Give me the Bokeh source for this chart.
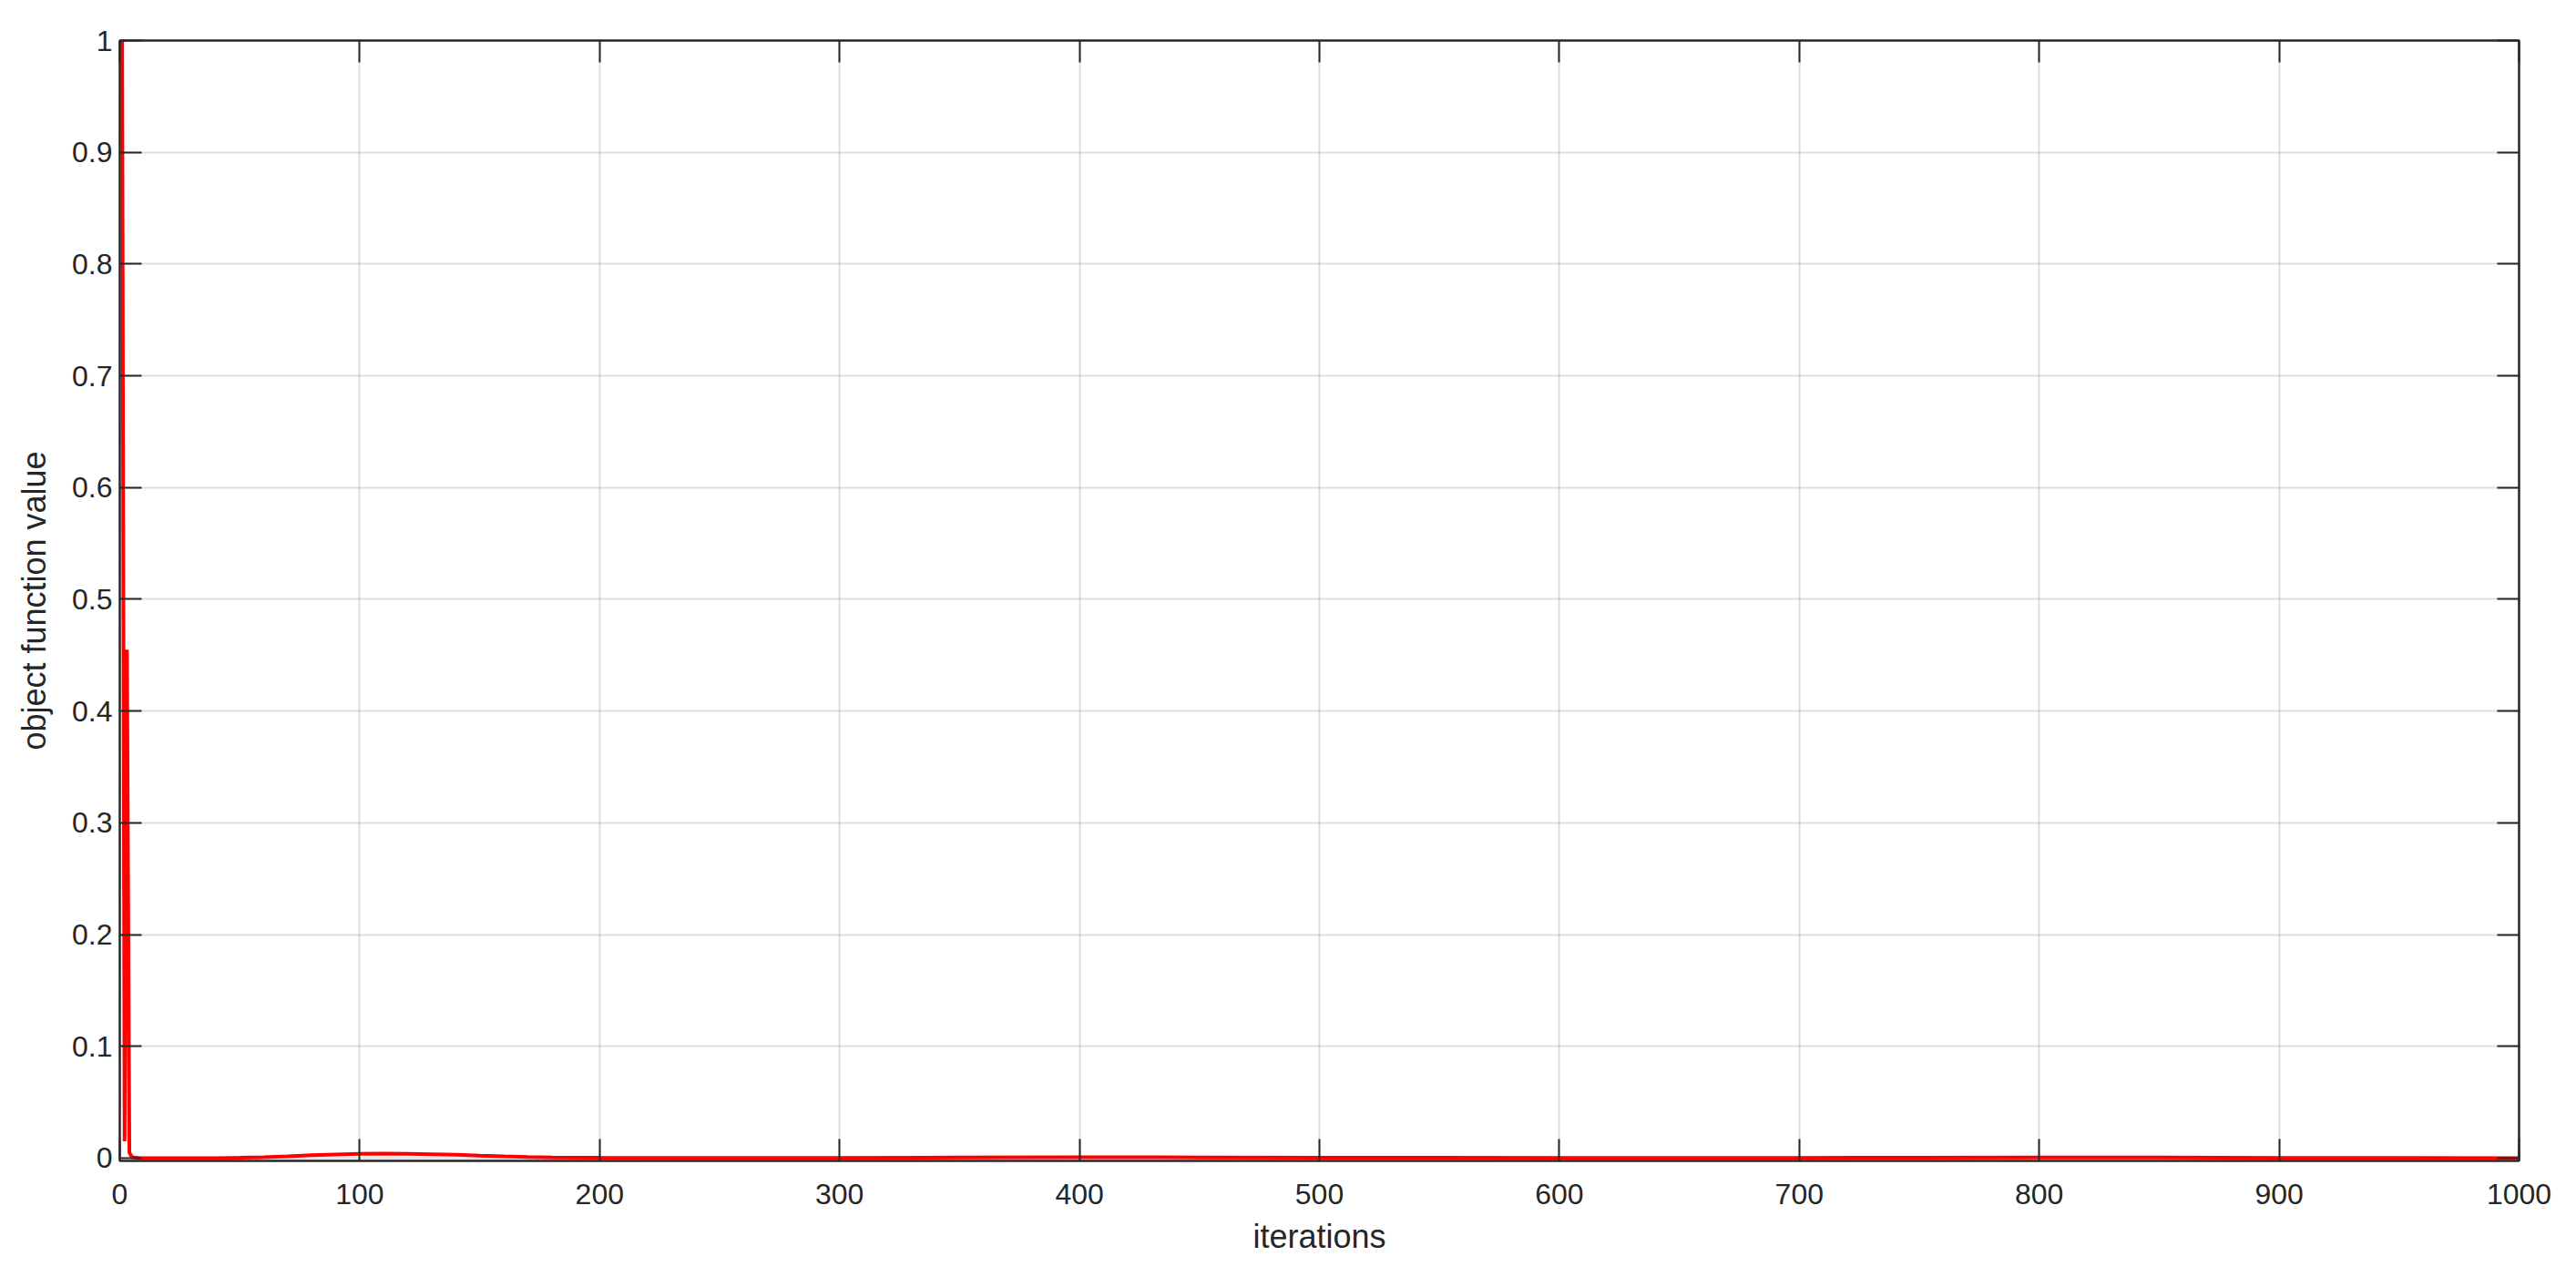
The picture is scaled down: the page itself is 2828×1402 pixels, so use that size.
from bokeh.plotting import figure
from bokeh.models import Range1d, LinearAxis, FixedTicker
from bokeh.embed import file_html
from bokeh.resources import INLINE

# ---- data ----
iterations = [1, 2, 3, 4, 5, 6, 8, 10, 20, 30, 40, 50, 60, 70, 80, 90, 100, 110, 120,
              130, 140, 150, 160, 170, 180, 200, 250, 300, 350, 400, 450, 500, 550,
              600, 650, 700, 750, 800, 850, 900, 950, 1000]
values = [1.0, 0.015, 0.455, 0.005, 0.001, 0.0005, 0.0002, 0.0, 0.0, 0.0, 0.0, 0.0003,
          0.0008, 0.0015, 0.0025, 0.0033, 0.0038, 0.004, 0.0038, 0.0035, 0.003, 0.0022,
          0.0015, 0.001, 0.0006, 0.0003, 0.0002, 0.0002, 0.0005, 0.0008, 0.0006, 0.0003,
          0.0003, 0.0002, 0.0002, 0.0002, 0.0004, 0.0006, 0.0005, 0.0002, 0.0001, 0.0]

x_ticks = [0, 100, 200, 300, 400, 500, 600, 700, 800, 900, 1000]
y_ticks = [0, 0.1, 0.2, 0.3, 0.4, 0.5, 0.6, 0.7, 0.8, 0.9, 1.0]
y_tick_labels = ["0", "0.1", "0.2", "0.3", "0.4", "0.5", "0.6", "0.7", "0.8", "0.9", "1"]
x_label = "iterations"
y_label = "object function value"

FONT = "Liberation Sans"
DARK = "#262626"
TICK_FS = "32px"
LABEL_FS = "36px"

# a hair of room below zero so the thick line at 0 is not cut in half
p = figure(width=2828, height=1402, output_backend="svg", toolbar_location=None,
           x_range=Range1d(0, 1000), y_range=Range1d(-0.0025, 1),
           min_border_left=131, min_border_right=63, min_border_top=44,
           min_border_bottom=128)

p.background_fill_color = "white"
p.border_fill_color = "white"
p.outline_line_color = DARK
p.outline_line_width = 2

# grid
for g in (p.xgrid, p.ygrid):
    g.grid_line_color = DARK
    g.grid_line_alpha = 0.15
    g.grid_line_width = 2
p.xgrid.ticker = FixedTicker(ticks=x_ticks)
p.ygrid.ticker = FixedTicker(ticks=y_ticks)

def style_axis(ax, ticks, show_labels=True):
    ax.ticker = FixedTicker(ticks=ticks)
    ax.axis_line_color = DARK
    ax.axis_line_width = 2
    ax.major_tick_line_color = DARK
    ax.major_tick_line_width = 2
    ax.major_tick_in = 24
    ax.major_tick_out = 0
    ax.minor_tick_line_color = None
    ax.major_label_text_font = FONT
    ax.major_label_text_color = DARK
    if show_labels:
        ax.major_label_text_font_size = TICK_FS
    else:
        ax.major_label_text_font_size = "0px"
        ax.major_label_standoff = 0
        ax.major_label_text_alpha = 0

xa = p.xaxis[0]
style_axis(xa, x_ticks)
xa.major_label_standoff = 25
xa.axis_label = x_label
xa.axis_label_text_font = FONT
xa.axis_label_text_font_size = LABEL_FS
xa.axis_label_text_font_style = "normal"
xa.axis_label_text_color = DARK
xa.axis_label_standoff = 12

ya = p.yaxis[0]
style_axis(ya, y_ticks)
ya.major_label_overrides = {t: s for t, s in zip(y_ticks, y_tick_labels)}
ya.major_label_standoff = 8
ya.axis_label = y_label
ya.axis_label_text_font = FONT
ya.axis_label_text_font_size = LABEL_FS
ya.axis_label_text_font_style = "normal"
ya.axis_label_text_color = DARK
ya.axis_label_standoff = 18

top_ax = LinearAxis()
style_axis(top_ax, x_ticks, show_labels=False)
p.add_layout(top_ax, "above")
right_ax = LinearAxis()
style_axis(right_ax, y_ticks, show_labels=False)
p.add_layout(right_ax, "right")

p.line(iterations, values, line_color="#ff0000", line_width=4)

open("out.html", "w").write(file_html(p, INLINE))
